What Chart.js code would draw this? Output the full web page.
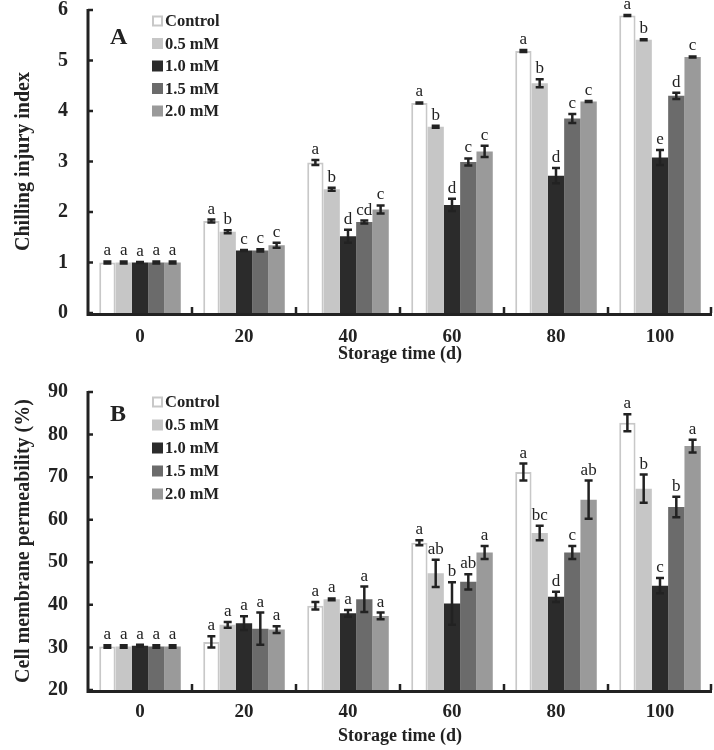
<!DOCTYPE html>
<html>
<head>
<meta charset="utf-8">
<script src="https://cdn.jsdelivr.net/npm/chart.js@4.4.1/dist/chart.umd.min.js"></script>
<style>
  body { margin: 0; background: #fff; }
  .panel { position: absolute; left: 0; width: 714px; }
  #wrapA { top: 0; height: 365px; }
  #wrapB { top: 365px; height: 385px; }
</style>
</head>
<body>
<div class="panel" id="wrapA"><canvas id="chartA" width="714" height="365"></canvas></div>
<div class="panel" id="wrapB"><canvas id="chartB" width="714" height="385"></canvas></div>
<script>
// ================= DATA =================
const storageDays = ['0', '20', '40', '60', '80', '100'];
const seriesNames = ['Control', '0.5 mM', '1.0 mM', '1.5 mM', '2.0 mM'];

// A: chilling injury index
const ciControl = [1.00, 1.82, 2.98, 4.16, 5.19, 5.89];
const ci05      = [1.00, 1.61, 2.45, 3.69, 4.55, 5.41];
const ci10      = [1.00, 1.24, 1.52, 2.14, 2.72, 3.08];
const ci15      = [1.00, 1.24, 1.80, 2.99, 3.85, 4.30];
const ci20      = [1.00, 1.34, 2.05, 3.20, 4.19, 5.07];
const ciErrControl = [0.02, 0.03, 0.05, 0.01, 0.02, 0.01];
const ciErr05      = [0.02, 0.03, 0.03, 0.02, 0.08, 0.01];
const ciErr10      = [0.01, 0.01, 0.13, 0.12, 0.15, 0.15];
const ciErr15      = [0.02, 0.02, 0.03, 0.07, 0.09, 0.06];
const ciErr20      = [0.02, 0.05, 0.08, 0.11, 0.01, 0.01];
const ciLetControl = ['a', 'a', 'a', 'a', 'a', 'a'];
const ciLet05      = ['a', 'b', 'b', 'b', 'b', 'b'];
const ciLet10      = ['a', 'c', 'd', 'd', 'd', 'e'];
const ciLet15      = ['a', 'c', 'cd', 'c', 'c', 'd'];
const ciLet20      = ['a', 'c', 'c', 'c', 'c', 'c'];
const ciTicks = [0, 1, 2, 3, 4, 5, 6];

// B: cell membrane permeability (%)
const cmControl = [30.2, 31.3, 39.8, 54.6, 71.2, 82.8];
const cm05      = [30.2, 35.3, 41.3, 47.4, 56.9, 67.3];
const cm10      = [30.4, 35.7, 38.0, 40.3, 41.9, 44.5];
const cm15      = [30.2, 34.4, 41.3, 45.4, 52.3, 63.0];
const cm20      = [30.2, 34.2, 37.4, 52.3, 64.7, 77.3];
const cmErrControl = [0.3, 1.3, 0.9, 0.6, 2.0, 2.0];
const cmErr05      = [0.3, 0.7, 0.2, 3.2, 1.7, 3.3];
const cmErr10      = [0.2, 1.6, 0.8, 5.0, 1.2, 1.8];
const cmErr15      = [0.3, 3.8, 3.0, 1.8, 1.5, 2.4];
const cmErr20      = [0.3, 0.8, 0.8, 1.5, 4.5, 1.5];
const cmLetControl = ['a', 'a', 'a', 'a', 'a', 'a'];
const cmLet05      = ['a', 'a', 'a', 'ab', 'bc', 'b'];
const cmLet10      = ['a', 'a', 'a', 'b', 'd', 'c'];
const cmLet15      = ['a', 'a', 'a', 'ab', 'c', 'b'];
const cmLet20      = ['a', 'a', 'a', 'a', 'ab', 'a'];
const cmTicks = [20, 30, 40, 50, 60, 70, 80, 90];

// ================= STYLE =================
const fillColors = ['#ffffff', '#c6c6c6', '#2b2b2b', '#6b6b6b', '#9a9a9a'];
const edgeColors = ['#c8c8c8', '#c6c6c6', '#2b2b2b', '#6b6b6b', '#9a9a9a'];
const ink = '#222222';
const serif = '"Liberation Serif", "Times New Roman", serif';

// error bars + significance letters
const errorBarPlugin = {
    id: 'errorBars',
    afterDatasetsDraw(chart) {
        const ctx = chart.ctx;
        const y = chart.scales.y;
        ctx.save();
        chart.data.datasets.forEach((ds, d) => {
            const meta = chart.getDatasetMeta(d);
            meta.data.forEach((bar, i) => {
                const v = ds.data[i], e = ds.errors[i];
                const top = y.getPixelForValue(v + e);
                const bot = y.getPixelForValue(v - e);
                ctx.strokeStyle = ink;
                ctx.lineWidth = 2.5;
                ctx.beginPath();
                ctx.moveTo(bar.x, top); ctx.lineTo(bar.x, bot);
                ctx.moveTo(bar.x - 4, top); ctx.lineTo(bar.x + 4, top);
                ctx.moveTo(bar.x - 4, bot); ctx.lineTo(bar.x + 4, bot);
                ctx.stroke();
                ctx.fillStyle = ink;
                ctx.font = '17px ' + serif;
                ctx.textAlign = 'center';
                ctx.textBaseline = 'alphabetic';
                ctx.fillText(ds.letters[i], bar.x, top - 6);
            });
        });
        ctx.restore();
    }
};

// axis lines with inward tick marks, drawn over the bar bases
const axisMarksPlugin = {
    id: 'axisMarks',
    afterDatasetsDraw(chart) {
        const ctx = chart.ctx;
        const x = chart.scales.x, y = chart.scales.y;
        const area = chart.chartArea;
        ctx.save();
        ctx.strokeStyle = ink;
        ctx.lineWidth = 3;
        ctx.beginPath();
        ctx.moveTo(area.left, area.top - 1);
        ctx.lineTo(area.left, area.bottom + 1.5);
        ctx.lineTo(area.right, area.bottom + 1.5);
        ctx.stroke();
        ctx.lineWidth = 2.5;
        ctx.beginPath();
        y.ticks.forEach(t => {
            const py = y.getPixelForValue(t.value);
            ctx.moveTo(area.left, py); ctx.lineTo(area.left + 5, py);
        });
        const n = chart.data.labels.length;
        for (let i = 1; i <= n; i++) {
            const px = i === n ? area.right - 1 : (x.getPixelForValue(i - 1) + x.getPixelForValue(i)) / 2;
            ctx.moveTo(px, area.bottom); ctx.lineTo(px, area.bottom - 6);
        }
        ctx.stroke();
        ctx.restore();
    }
};

// legend block + panel tag inside the plot
const legendPlugin = {
    id: 'innerLegend',
    afterDraw(chart, args, opts) {
        const ctx = chart.ctx;
        ctx.save();
        ctx.font = 'bold 24px ' + serif;
        ctx.fillStyle = ink;
        ctx.textAlign = 'left';
        ctx.textBaseline = 'middle';
        ctx.fillText(opts.tag, opts.tagX, opts.tagY);
        ctx.font = 'bold 16.5px ' + serif;
        chart.data.datasets.forEach((ds, d) => {
            const cy = opts.y + d * opts.step;
            ctx.fillStyle = fillColors[d];
            ctx.fillRect(opts.x, cy - 5.5, 11, 11);
            if (d === 0) {
                ctx.strokeStyle = edgeColors[0];
                ctx.lineWidth = 2;
                ctx.strokeRect(opts.x + 1, cy - 4.5, 9, 9);
            }
            ctx.fillStyle = ink;
            ctx.fillText(ds.label, opts.x + 13, cy + 1);
        });
        ctx.restore();
    }
};

function buildDatasets(values, errors, letters) {
    return values.map((vals, d) => ({
        label: seriesNames[d],
        data: vals,
        errors: errors[d],
        letters: letters[d],
        backgroundColor: fillColors[d],
        borderColor: edgeColors[d],
        borderWidth: d === 0 ? { top: 2, left: 2, right: 2, bottom: 0 } : 0,
        categoryPercentage: 0.784,
        barPercentage: 1.0
    }));
}

function makeChart(id, cfg) {
    return new Chart(document.getElementById(id), {
        type: 'bar',
        data: {
            labels: storageDays,
            datasets: buildDatasets(cfg.values, cfg.errors, cfg.letters)
        },
        options: {
            responsive: false,
            animation: false,
            devicePixelRatio: 1,
            layout: { padding: { top: cfg.padTop, right: 2, left: 0, bottom: 0 } },
            plugins: {
                legend: { display: false },
                tooltip: { enabled: false },
                innerLegend: cfg.legend
            },
            scales: {
                x: {
                    grid: { display: false, drawTicks: false },
                    border: { display: false },
                    ticks: { color: ink, padding: cfg.xPad, font: { family: serif, size: 19, weight: 'bold' } },
                    title: {
                        display: true, text: 'Storage time (d)', color: ink,
                        font: { family: serif, size: 18, weight: 'bold' },
                        padding: { top: 0, bottom: cfg.xTitlePad }
                    },
                    afterFit: s => { s.height = cfg.xHeight; }
                },
                y: {
                    min: cfg.ticks[0],
                    max: cfg.ticks[cfg.ticks.length - 1],
                    afterBuildTicks: s => { s.ticks = cfg.ticks.map(v => ({ value: v })); },
                    grid: { display: false, drawTicks: false },
                    border: { display: false },
                    ticks: { color: ink, padding: 20, font: { family: serif, size: 20, weight: 'bold' } },
                    title: {
                        display: true, text: cfg.yTitle, color: ink,
                        font: { family: serif, size: 20, weight: 'bold' },
                        padding: { top: 12, bottom: 0 }
                    },
                    // fixed axis width; drop the label padding so the plot top sits on layout.padding
                    afterFit: s => { s.width = 88; s.paddingTop = 0; s.paddingBottom = 0; }
                }
            }
        },
        plugins: [errorBarPlugin, axisMarksPlugin, legendPlugin]
    });
}

makeChart('chartA', {
    values: [ciControl, ci05, ci10, ci15, ci20],
    errors: [ciErrControl, ciErr05, ciErr10, ciErr15, ciErr20],
    letters: [ciLetControl, ciLet05, ciLet10, ciLet15, ciLet20],
    ticks: ciTicks,
    yTitle: 'Chilling injury index',
    padTop: 10, xHeight: 52, xPad: 13, xTitlePad: 0,
    legend: { tag: 'A', tagX: 110, tagY: 38, x: 152, y: 21, step: 22.5 }
});

makeChart('chartB', {
    values: [cmControl, cm05, cm10, cm15, cm20],
    errors: [cmErrControl, cmErr05, cmErr10, cmErr15, cmErr20],
    letters: [cmLetControl, cmLet05, cmLet10, cmLet15, cmLet20],
    ticks: cmTicks,
    yTitle: 'Cell membrane permeability (%)',
    padTop: 27, xHeight: 60, xPad: 11, xTitlePad: 3,
    legend: { tag: 'B', tagX: 110, tagY: 50, x: 152, y: 37, step: 23 }
});
</script>
</body>
</html>
